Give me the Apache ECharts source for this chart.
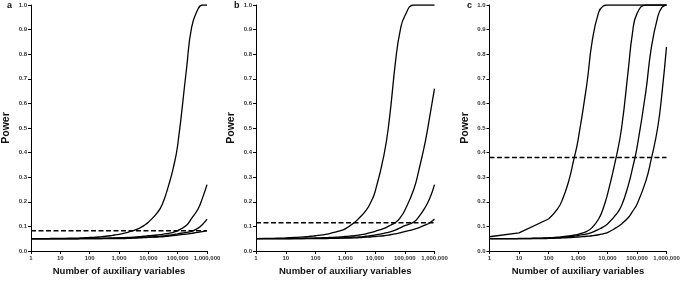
<!DOCTYPE html>
<html><head><meta charset="utf-8">
<script src="https://cdn.jsdelivr.net/npm/echarts@6/dist/echarts.min.js"></script>
<style>html,body{margin:0;padding:0;background:#fff}#c{width:685px;height:281px}</style>
</head><body><div id="c"></div>
<script>
var xs = [1,2,3,5,7,10,20,30,50,70,100,200,300,500,700,1000,2000,3000,5000,7000,10000,20000,30000,50000,70000,100000,200000,300000,500000,700000,1000000];
var xTickLabels = ['1','10','100','1,000','10,000','100,000','1,000,000'];
var yTickLabels = ['0.0','0.1','0.2','0.3','0.4','0.5','0.6','0.7','0.8','0.9','1.0'];
var panelLetters = ['a','b','c'];
var xTitle = 'Number of auxiliary variables';
var yTitle = 'Power';
var dashedLevels = [0.082, 0.115, 0.38];

var a1 = [.050,.050,.050,.051,.051,.051,.052,.052,.053,.054,.055,.057,.059,.062,.065,.068,.076,.083,.093,.103,.117,.155,.19,.27,.335,.43,.74,.91,.985,1.0,1.0];
var a2 = [.050,.050,.050,.050,.050,.050,.050,.050,.051,.051,.051,.052,.052,.053,.053,.054,.055,.056,.058,.060,.062,.065,.068,.072,.076,.083,.105,.133,.172,.215,.27];
var a3 = [.050,.050,.050,.050,.050,.050,.050,.050,.050,.050,.050,.050,.051,.051,.052,.052,.053,.054,.055,.056,.057,.059,.061,.064,.067,.070,.076,.080,.093,.108,.130];
var a4 = [.049,.049,.049,.049,.049,.049,.049,.049,.050,.050,.050,.050,.050,.050,.050,.050,.051,.052,.053,.054,.055,.057,.058,.061,.063,.065,.069,.072,.076,.079,.083];

var b1 = [.050,.051,.051,.052,.052,.053,.055,.056,.058,.060,.062,.067,.071,.078,.083,.090,.115,.135,.165,.195,.24,.39,.53,.78,.895,.955,1.0,1.0,1.0,1.0,1.0];
var b2 = [.050,.050,.050,.050,.050,.050,.051,.051,.052,.052,.053,.054,.055,.056,.057,.059,.062,.065,.070,.075,.080,.092,.102,.117,.135,.165,.25,.33,.45,.55,.66];
var b3 = [.050,.050,.050,.050,.050,.050,.050,.050,.051,.051,.051,.052,.052,.053,.053,.054,.056,.057,.060,.062,.065,.072,.077,.086,.094,.103,.118,.14,.18,.215,.27];
var b4 = [.050,.050,.050,.050,.050,.050,.050,.050,.050,.050,.050,.050,.051,.051,.052,.052,.053,.054,.056,.057,.059,.062,.065,.070,.074,.079,.088,.095,.106,.115,.13];

var c1 = [.058,null,null,null,null,.074,null,null,null,null,.130,.17,.21,.29,.365,.45,.68,.85,.97,.995,1.0,1.0,1.0,1.0,1.0,1.0,1.0,1.0,1.0,1.0,1.0];
var c2 = [.050,.050,.050,.050,.050,.051,.051,.052,.052,.053,.054,.056,.058,.061,.064,.068,.080,.095,.13,.17,.23,.385,.50,.73,.885,.965,1.0,1.0,1.0,1.0,1.0];
var c3 = [.050,.050,.050,.050,.050,.050,.050,.051,.051,.052,.052,.054,.055,.058,.060,.063,.070,.076,.088,.097,.11,.15,.185,.265,.335,.42,.65,.82,.95,.99,1.0];
var c4 = [.050,.050,.050,.050,.050,.050,.050,.050,.050,.050,.051,.052,.053,.054,.055,.057,.060,.062,.066,.070,.075,.095,.11,.135,.16,.19,.285,.37,.50,.64,.83];

var panels = [[a1,a2,a3,a4],[b1,b2,b3,b4],[c1,c2,c3,c4]];
var grids = [
  {left:29, top:5, width:178, height:246},
  {left:256, top:5, width:178.5, height:246},
  {left:489.5, top:5, width:177, height:246}
];
var letterPos = [[7,1],[234,1],[467,1]];

var FONT = 'Liberation Sans, Arial, sans-serif';
// points up to index `to` are joined by straight segments, the rest is smoothed
function pairs(vals, from, to){
  var out = [];
  for (var i=from;i<=to;i++){ if (vals[i]!=null) out.push([xs[i], vals[i]]); }
  return out;
}
function addLine(p, data, smooth){
  option.series.push({type:'line', xAxisIndex:p, yAxisIndex:p, data:data,
    showSymbol:false, smooth:smooth, connectNulls:true,
    lineStyle:{color:'#000', width:1.3}, silent:true});
}
var option = {animation:false, grid:[], xAxis:[], yAxis:[], series:[], graphic:[]};
for (var p=0;p<3;p++){
  option.grid.push(grids[p]);
  option.xAxis.push({
    type:'log', logBase:10, min:1, max:1000000, gridIndex:p,
    name:xTitle, nameLocation:'middle', nameGap:14,
    nameTextStyle:{fontFamily:FONT, fontWeight:'bold', fontSize:9.5, color:'#111'},
    axisLine:{lineStyle:{color:'#000', width:1}},
    axisTick:{length:3, lineStyle:{color:'#000'}},
    minorTick:{show:false}, splitLine:{show:false},
    axisLabel:{fontFamily:FONT, fontWeight:'bold', fontSize:6, color:'#333', margin:4,
      formatter:function(v){ var i=Math.round(Math.log10(v)); return xTickLabels[i]; }}
  });
  option.yAxis.push({
    type:'value', min:0, max:1, interval:0.1, gridIndex:p,
    name:yTitle, nameLocation:'middle', nameGap:19, nameRotate:90,
    nameTextStyle:{fontFamily:FONT, fontWeight:'bold', fontSize:10.5, color:'#111'},
    axisLine:{show:true, lineStyle:{color:'#000', width:1}},
    axisTick:{show:true, length:3, lineStyle:{color:'#000'}},
    splitLine:{show:false},
    axisLabel:{fontFamily:FONT, fontWeight:'bold', fontSize:6, color:'#333', margin:4,
      formatter:function(v){ return yTickLabels[Math.round(v*10)]; }}
  });
  panels[p].forEach(function(vals){
    if (vals[1] == null) {
      // series sampled only at 1, 10, 100 at the low end: straight segments there
      addLine(p, pairs(vals, 0, 10), false);
      addLine(p, pairs(vals, 10, xs.length-1), 0.5);
    } else {
      addLine(p, pairs(vals, 0, xs.length-1), 0.5);
    }
  });
  option.series.push({type:'line', xAxisIndex:p, yAxisIndex:p,
    data:[[1,dashedLevels[p]],[1000000,dashedLevels[p]]], showSymbol:false,
    lineStyle:{color:'#000', width:1.5, type:[5,2.5]}, silent:true});
  option.graphic.push({type:'text', left:letterPos[p][0], top:letterPos[p][1],
    style:{text:panelLetters[p], font:'bold 9px '+FONT, fill:'#111'}});
}
var chart = echarts.init(document.getElementById('c'), null, {renderer:'canvas'});
chart.setOption(option);
</script></body></html>
